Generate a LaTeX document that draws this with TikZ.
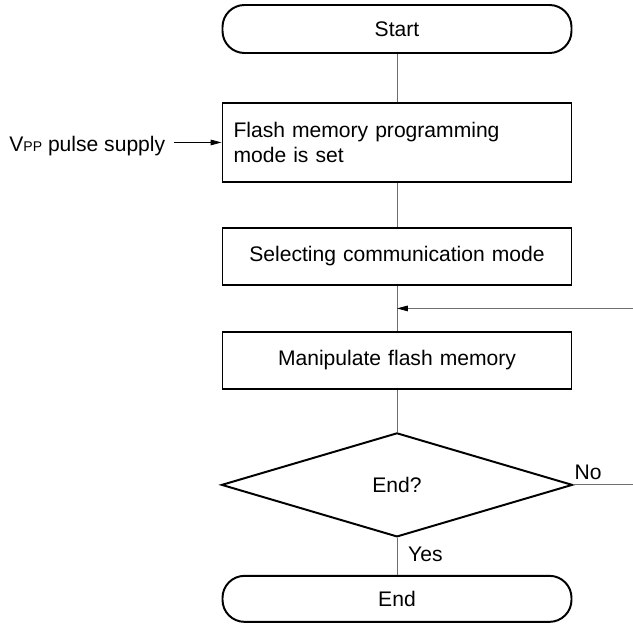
\documentclass[tikz,border=0pt]{standalone}
\usepackage{fontspec}
\setmainfont{Liberation Sans}
\usetikzlibrary{arrows.meta,positioning,calc,shapes.geometric}
\definecolor{Line}{HTML}{6E6E6E}

\begin{document}
\begin{tikzpicture}[
    font=\fontsize{15}{17.5}\selectfont,
    block/.style={rectangle,draw,line width=1.4pt,minimum width=8.725cm,minimum height=1.425cm,text width=8.175cm,inner xsep=0.275cm,align=center},
    term/.style={rectangle,rounded corners=0.55cm,draw,line width=1.4pt,minimum width=8.725cm,minimum height=1.2cm},
    decide/.style={diamond,draw,line width=1.4pt,minimum width=8.775cm,minimum height=2.6cm,inner sep=0pt,aspect=3.375},
    link/.style={draw=Line,line width=0.7pt},
    arrow/.style={-{Triangle[length=2.7mm,width=1.4mm,color=black]},line width=0.6pt}
]
\useasboundingbox (0,0) rectangle (15.825,-15.65);
\node[term] (start) at (9.925,-0.725) {Start};
\node[block,below=1.2cm of start,minimum height=1.975cm,align=left] (prog) {Flash memory programming\\mode is set};
\node[block,below=1.1cm of prog] (comm) {Selecting communication mode};
\node[block,below=1.125cm of comm] (manip) {Manipulate flash memory};
\node[decide,below=1.05cm of manip] (done) {End?};
\node[term,below=0.925cm of done,minimum height=1.15cm] (stop) {End};
\node[left=1.4cm of prog.west,inner sep=0pt,yshift=-1mm] (vpp) {V{\fontsize{10}{10}\selectfont PP} pulse supply};
\coordinate (edge) at (15.825,0);
\coordinate (mid) at ($(comm.south)!0.5!(manip.north)$);
% main flow
\draw[link] (start) -- (prog);
\draw[link] (prog) -- (comm);
\draw[link] (comm) -- (manip);
\draw[link] (manip) -- (done);
\draw[link] (done) -- node[right=0.15cm,pos=0.45,text=black]{Yes} (stop);
% side inputs
\draw[arrow] ([xshift=0.2cm]vpp.east |- prog.west) -- (prog.west);
\draw[arrow,draw=Line] (mid -| edge) -- (mid);
\draw[link] (done.east) -- node[pos=0,above right,xshift=-1mm,text=black]{No} (done.east -| edge);
\end{tikzpicture}
\end{document}
